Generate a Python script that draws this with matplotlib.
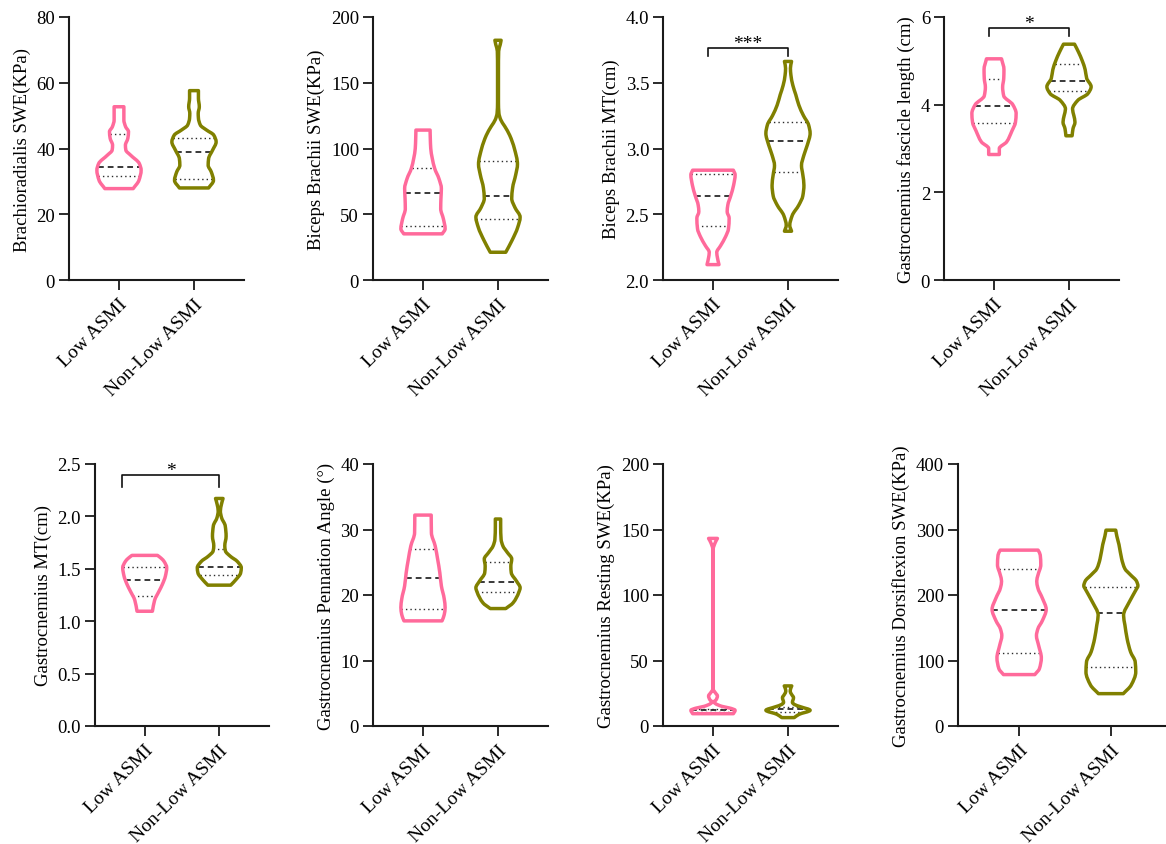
import numpy as np
import matplotlib
matplotlib.use('Agg')
import matplotlib.pyplot as plt
from matplotlib.path import Path
from matplotlib.patches import PathPatch

plt.rcParams['font.family'] = ['Liberation Serif', 'DejaVu Serif']
plt.rcParams['font.size'] = 13.5

PINK = '#FF6A9B'
OLIVE = '#808000'
HALF = 0.295  # half width of the widest part of a violin, in x units

groups = ['Low ASMI', 'Non-Low ASMI']

# each violin: y knots, relative half widths at those knots, and [Q1, median, Q3]
br_low_y = [27.8, 30.3, 33.4, 35.4, 38.0, 39.5, 41.0, 43.1, 45.1, 46.6, 48.7, 50.7, 52.7]
br_low_w = [0.64, 0.9, 1.0, 0.92, 0.52, 0.31, 0.29, 0.4, 0.43, 0.3, 0.22, 0.22, 0.22]
br_low_q = [31.7, 34.4, 44.4]
br_non_y = [28.0, 30.3, 32.9, 34.9, 36.9, 39.5, 42.0, 44.1, 45.6, 47.1, 49.2, 50.7, 52.7, 55.3, 57.6]
br_non_w = [0.66, 0.88, 0.78, 0.64, 0.66, 0.84, 1.0, 0.89, 0.57, 0.29, 0.2, 0.19, 0.24, 0.2, 0.2]
br_non_q = [30.8, 38.8, 43.3]

bb_low_y = [35.1, 38.9, 46.6, 54.2, 61.8, 69.5, 77.1, 84.7, 92.4, 100.0, 107.6, 114.0]
bb_low_w = [0.87, 1.0, 0.92, 0.8, 0.81, 0.83, 0.72, 0.53, 0.42, 0.35, 0.33, 0.32]
bb_low_q = [40.7, 66.2, 85.5]
bb_non_y = [21.1, 30.0, 40.0, 47.8, 55.0, 62.0, 70.0, 80.0, 88.0, 100.0, 110.0, 117.0, 122.0, 127.0,
            135.0, 160.0, 174.0, 179.0, 182.3]
bb_non_w = [0.35, 0.63, 0.89, 1.0, 0.77, 0.62, 0.66, 0.8, 0.88, 0.74, 0.53, 0.3, 0.12, 0.04,
            0.02, 0.02, 0.03, 0.1, 0.14]
bb_non_q = [46.6, 63.9, 90.3]

bmt_low_y = [2.117, 2.17, 2.21, 2.26, 2.33, 2.39, 2.47, 2.52, 2.57, 2.64, 2.72, 2.80, 2.835]
bmt_low_w = [0.27, 0.2, 0.17, 0.34, 0.57, 0.7, 0.73, 0.64, 0.67, 0.8, 0.93, 1.0, 0.92]
bmt_low_q = [2.407, 2.639, 2.804]
bmt_non_y = [2.371, 2.415, 2.49, 2.57, 2.64, 2.72, 2.80, 2.87, 2.95, 3.03, 3.115, 3.18, 3.25,
             3.33, 3.41, 3.48, 3.56, 3.61, 3.662]
bmt_non_w = [0.16, 0.08, 0.19, 0.49, 0.67, 0.72, 0.67, 0.61, 0.72, 0.88, 1.0, 0.93, 0.7,
             0.49, 0.35, 0.22, 0.13, 0.11, 0.16]
bmt_non_q = [2.819, 3.059, 3.201]

fl_low_y = [2.863, 3.0, 3.15, 3.4, 3.6, 3.8, 4.0, 4.2, 4.4, 4.6, 4.8, 5.046]
fl_low_w = [0.24, 0.24, 0.57, 0.81, 0.97, 1.0, 0.85, 0.44, 0.39, 0.44, 0.45, 0.34]
fl_low_q = [3.573, 3.962, 4.588]
fl_non_y = [3.29, 3.45, 3.6, 3.75, 3.9, 4.1, 4.25, 4.41, 4.6, 4.8, 5.0, 5.2, 5.38]
fl_non_w = [0.14, 0.18, 0.27, 0.22, 0.16, 0.4, 0.85, 1.0, 0.8, 0.73, 0.6, 0.43, 0.25]
fl_non_q = [4.313, 4.542, 4.931]

gmt_low_y = [1.095, 1.2, 1.29, 1.35, 1.43, 1.51, 1.57, 1.60, 1.628]
gmt_low_w = [0.35, 0.45, 0.66, 0.8, 0.94, 1.0, 0.88, 0.75, 0.58]
gmt_low_q = [1.239, 1.395, 1.517]
gmt_non_y = [1.344, 1.40, 1.46, 1.51, 1.57, 1.62, 1.67, 1.72, 1.81, 1.91, 1.99, 2.05, 2.117, 2.171]
gmt_non_w = [0.52, 0.77, 0.97, 1.0, 0.82, 0.5, 0.28, 0.25, 0.31, 0.27, 0.1, 0.05, 0.1, 0.17]
gmt_non_q = [1.437, 1.517, 1.686]

pa_low_y = [16.05, 17.0, 18.1, 19.4, 21.4, 23.4, 25.5, 27.5, 29.5, 32.2]
pa_low_w = [0.86, 0.96, 1.0, 0.96, 0.83, 0.76, 0.66, 0.55, 0.38, 0.37]
pa_low_q = [17.93, 22.57, 27.0]
pa_non_y = [17.93, 18.8, 20.4, 21.1, 22.1, 23.4, 24.4, 25.5, 26.5, 27.5, 28.5, 30.5, 31.6]
pa_non_w = [0.35, 0.68, 0.94, 1.0, 0.84, 0.6, 0.58, 0.62, 0.42, 0.22, 0.14, 0.12, 0.12]
pa_non_q = [20.48, 22.06, 25.06]

rs_low_y = [9.4, 12.0, 13.5, 15.0, 17.0, 18.3, 20.0, 22.9, 25.5, 28.0, 135.0, 140.0, 143.2]
rs_low_w = [0.92, 1.0, 0.8, 0.4, 0.12, 0.04, 0.14, 0.2, 0.1, 0.01, 0.01, 0.1, 0.2]
rs_low_q = [11.0, 12.0, 13.2]
rs_non_y = [6.4, 8.9, 12.0, 14.5, 16.5, 18.0, 21.6, 24.2, 26.5, 28.5, 30.6]
rs_non_w = [0.28, 0.5, 1.0, 0.6, 0.28, 0.2, 0.25, 0.16, 0.1, 0.12, 0.17]
rs_non_q = [10.5, 12.6, 14.3]

ds_low_y = [78.5, 87.6, 104, 123, 138, 148, 161, 178, 195, 211, 221, 231, 246, 261, 268.5]
ds_low_w = [0.58, 0.75, 0.82, 0.72, 0.64, 0.69, 0.86, 1.0, 0.86, 0.69, 0.65, 0.7, 0.8, 0.78, 0.7]
ds_low_q = [111.6, 177.8, 240.0]
ds_non_y = [49.4, 62.4, 82.5, 97.8, 113, 133.5, 154, 169, 190, 208, 214, 221, 231, 240, 255, 277, 290, 299]
ds_non_w = [0.46, 0.75, 0.92, 0.9, 0.73, 0.6, 0.52, 0.47, 0.69, 0.93, 1.0, 0.95, 0.72, 0.52, 0.4,
            0.3, 0.22, 0.18]
ds_non_q = [90.2, 173.2, 211.5]

ylabels = ['Brachioradialis SWE(KPa)', 'Biceps Brachii SWE(KPa)', 'Biceps Brachii MT(cm)',
           'Gastrocnemius fascicle length (cm)', 'Gastrocnemius MT(cm)',
           'Gastrocnemius Pennation Angle (°)', 'Gastrocnemius Resting SWE(KPa)',
           'Gastrocnemius Dorsiflexion SWE(KPa)']
ylims = [(0, 80), (0, 200), (2.0, 4.0), (0, 6), (0, 2.5), (0, 40), (0, 200), (0, 400)]
ysteps = [20, 50, 0.5, 2, 0.5, 10, 50, 100]
yfmt = ['{:.0f}', '{:.0f}', '{:.1f}', '{:.0f}', '{:.1f}', '{:.0f}', '{:.0f}', '{:.0f}']

violins = [
    [(br_low_y, br_low_w, br_low_q), (br_non_y, br_non_w, br_non_q)],
    [(bb_low_y, bb_low_w, bb_low_q), (bb_non_y, bb_non_w, bb_non_q)],
    [(bmt_low_y, bmt_low_w, bmt_low_q), (bmt_non_y, bmt_non_w, bmt_non_q)],
    [(fl_low_y, fl_low_w, fl_low_q), (fl_non_y, fl_non_w, fl_non_q)],
    [(gmt_low_y, gmt_low_w, gmt_low_q), (gmt_non_y, gmt_non_w, gmt_non_q)],
    [(pa_low_y, pa_low_w, pa_low_q), (pa_non_y, pa_non_w, pa_non_q)],
    [(rs_low_y, rs_low_w, rs_low_q), (rs_non_y, rs_non_w, rs_non_q)],
    [(ds_low_y, ds_low_w, ds_low_q), (ds_non_y, ds_non_w, ds_non_q)],
]

# significance brackets: panel index -> (x left, x right, y top, y end, x of text, text)
brackets = {
    2: (0.933, 2.0, 3.768, 3.707, 1.467, '***'),
    3: (0.933, 2.0, 5.748, 5.557, 1.47, '*'),
    4: (0.70, 2.0, 2.395, 2.276, 1.35, '*'),
}

# axes boxes in pixels: left, top, width, height
W, H = 1166, 845
boxes = [(69, 18, 175, 263), (373, 18, 175, 263), (663, 18, 175, 263), (944, 18, 175, 263),
         (95, 465, 174, 262), (373, 465, 175, 262), (663, 465, 175, 262), (958, 465, 214, 262)]


def pchip_slopes(y, w):
    h = np.diff(y)
    d = np.diff(w) / h
    m = np.zeros_like(w)
    m[0] = d[0]
    m[-1] = d[-1]
    for k in range(1, len(w) - 1):
        if d[k - 1] * d[k] <= 0:
            m[k] = 0
        else:
            a = 2 * h[k] + h[k - 1]
            b = h[k] + 2 * h[k - 1]
            m[k] = (a + b) / (a / d[k - 1] + b / d[k])
    return m


def violin(ax, x0, y, w, q, color):
    y = np.asarray(y, float)
    w = np.asarray(w, float) * HALF
    m = pchip_slopes(y, w)
    verts = [(x0 + w[0], y[0])]
    codes = [Path.MOVETO]
    for i in range(len(y) - 1):
        h = y[i + 1] - y[i]
        verts += [(x0 + w[i] + m[i] * h / 3, y[i] + h / 3),
                  (x0 + w[i + 1] - m[i + 1] * h / 3, y[i + 1] - h / 3),
                  (x0 + w[i + 1], y[i + 1])]
        codes += [Path.CURVE4] * 3
    verts.append((x0 - w[-1], y[-1]))
    codes.append(Path.LINETO)
    for i in range(len(y) - 1, 0, -1):
        h = y[i] - y[i - 1]
        verts += [(x0 - w[i] + m[i] * h / 3, y[i] - h / 3),
                  (x0 - w[i - 1] - m[i - 1] * h / 3, y[i - 1] + h / 3),
                  (x0 - w[i - 1], y[i - 1])]
        codes += [Path.CURVE4] * 3
    verts.append(verts[0])
    codes.append(Path.CLOSEPOLY)
    ax.add_patch(PathPatch(Path(verts, codes), facecolor='none', edgecolor=color,
                           lw=2.5, joinstyle='round', zorder=3))
    # quartiles dotted, median dashed
    for j, val in enumerate(q):
        hw = np.interp(val, y, w)
        if j == 1:
            ax.plot([x0 - hw, x0 + hw], [val, val], color='#2a2a2a', lw=1.3,
                    ls=(0, (3.2, 2.2)), zorder=2)
        else:
            ax.plot([x0 - hw, x0 + hw], [val, val], color='#2a2a2a', lw=1.0,
                    ls=(0, (1, 2.2)), zorder=2)


fig = plt.figure(figsize=(W / 100, H / 100), dpi=100)
colors = [PINK, OLIVE]

for n in range(8):
    l, t, bw, bh = boxes[n]
    ax = fig.add_axes([l / W, 1 - (t + bh) / H, bw / W, bh / H])
    for g in range(2):
        yy, ww, qq = violins[n][g]
        violin(ax, g + 1, yy, ww, qq, colors[g])
    lo, hi = ylims[n]
    ax.set_xlim(1 / 3, 8 / 3)
    ax.set_ylim(lo, hi)
    ticks = np.arange(lo, hi + ysteps[n] / 2, ysteps[n])
    ax.set_yticks(ticks)
    ax.set_yticklabels([yfmt[n].format(v) for v in ticks])
    ax.set_xticks([1, 2])
    ax.set_xticklabels(groups, rotation=45, ha='right', va='top',
                       rotation_mode='anchor', fontsize=14)
    ax.set_ylabel(ylabels[n], labelpad=4)
    for s in ['top', 'right']:
        ax.spines[s].set_visible(False)
    for s in ['left', 'bottom']:
        ax.spines[s].set_linewidth(1.5)
        ax.spines[s].set_color('#1a1a1a')
    ax.tick_params(axis='both', length=7, width=1.3, color='#1a1a1a', pad=3)
    ax.tick_params(axis='x', pad=4)
    if n in brackets:
        xa, xb, ytop, yend, xt, txt = brackets[n]
        ax.plot([xa, xa, xb, xb], [yend, ytop, ytop, yend], color='#111111', lw=1.2,
                clip_on=False)
        ax.annotate(txt, (xt, ytop), xytext=(0, 0), textcoords='offset points',
                    ha='center', va='baseline', fontsize=14)

fig.savefig('out.png', dpi=100)
